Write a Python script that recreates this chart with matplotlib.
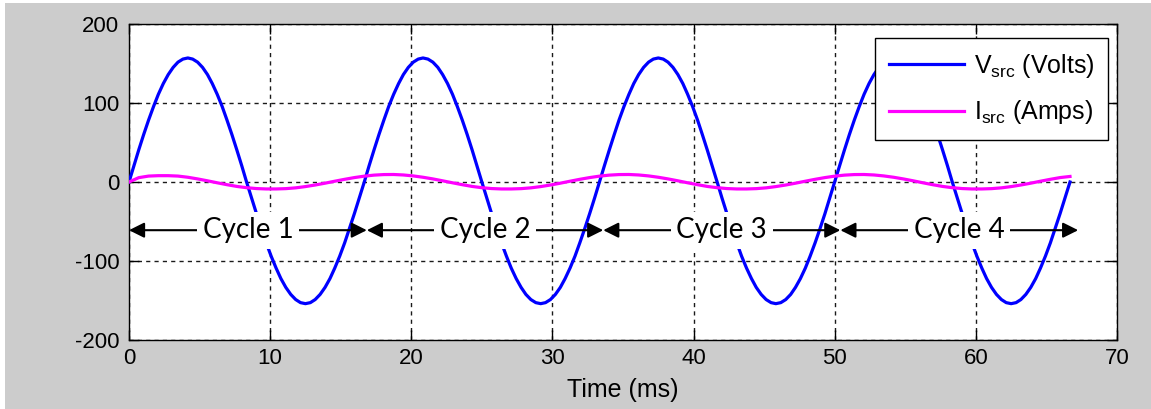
import matplotlib
matplotlib.use('Agg')
import matplotlib.pyplot as plt
from matplotlib.patches import Rectangle

# ---- data ----
# source voltage, sampled every 1/48 cycle
v_time_ms = [
    0.00, 0.35, 0.69, 1.04, 1.39, 1.74, 2.08, 2.43, 2.78, 3.13, 3.47, 3.82,
    4.17, 4.51, 4.86, 5.21, 5.56, 5.90, 6.25, 6.60, 6.94, 7.29, 7.64, 7.99,
    8.33, 8.68, 9.03, 9.38, 9.72, 10.07, 10.42, 10.76, 11.11, 11.46, 11.81, 12.15,
    12.50, 12.85, 13.19, 13.54, 13.89, 14.24, 14.58, 14.93, 15.28, 15.62, 15.97, 16.32,
    16.67, 17.01, 17.36, 17.71, 18.06, 18.40, 18.75, 19.10, 19.44, 19.79, 20.14, 20.49,
    20.83, 21.18, 21.53, 21.88, 22.22, 22.57, 22.92, 23.26, 23.61, 23.96, 24.31, 24.65,
    25.00, 25.35, 25.69, 26.04, 26.39, 26.74, 27.08, 27.43, 27.78, 28.12, 28.47, 28.82,
    29.17, 29.51, 29.86, 30.21, 30.56, 30.90, 31.25, 31.60, 31.94, 32.29, 32.64, 32.99,
    33.33, 33.68, 34.03, 34.38, 34.72, 35.07, 35.42, 35.76, 36.11, 36.46, 36.81, 37.15,
    37.50, 37.85, 38.19, 38.54, 38.89, 39.24, 39.58, 39.93, 40.28, 40.62, 40.97, 41.32,
    41.67, 42.01, 42.36, 42.71, 43.06, 43.40, 43.75, 44.10, 44.44, 44.79, 45.14, 45.49,
    45.83, 46.18, 46.53, 46.88, 47.22, 47.57, 47.92, 48.26, 48.61, 48.96, 49.31, 49.65,
    50.00, 50.35, 50.69, 51.04, 51.39, 51.74, 52.08, 52.43, 52.78, 53.13, 53.47, 53.82,
    54.17, 54.51, 54.86, 55.21, 55.56, 55.90, 56.25, 56.60, 56.94, 57.29, 57.64, 57.99,
    58.33, 58.68, 59.03, 59.38, 59.72, 60.07, 60.42, 60.76, 61.11, 61.46, 61.81, 62.15,
    62.50, 62.85, 63.19, 63.54, 63.89, 64.24, 64.58, 64.93, 65.28, 65.62, 65.97, 66.32,
    66.67,
]

v_src = [
    0, 20.5, 40.6, 60.1, 78.5, 95.6, 111.0, 124.6, 136.0, 145.1, 151.7, 155.6,
    157, 155.6, 151.7, 145.1, 136.0, 124.6, 111.0, 95.6, 78.5, 60.1, 40.6, 20.5,
    0, -20.1, -39.9, -58.9, -77, -93.8, -108.9, -122.2, -133.4, -142.3, -148.8, -152.7,
    -154, -152.7, -148.8, -142.3, -133.4, -122.2, -108.9, -93.8, -77, -58.9, -39.9, -20.1,
    0, 20.5, 40.6, 60.1, 78.5, 95.6, 111.0, 124.6, 136.0, 145.1, 151.7, 155.6,
    157, 155.6, 151.7, 145.1, 136.0, 124.6, 111.0, 95.6, 78.5, 60.1, 40.6, 20.5,
    0, -20.1, -39.9, -58.9, -77, -93.8, -108.9, -122.2, -133.4, -142.3, -148.8, -152.7,
    -154, -152.7, -148.8, -142.3, -133.4, -122.2, -108.9, -93.8, -77, -58.9, -39.9, -20.1,
    0, 20.5, 40.6, 60.1, 78.5, 95.6, 111.0, 124.6, 136.0, 145.1, 151.7, 155.6,
    157, 155.6, 151.7, 145.1, 136.0, 124.6, 111.0, 95.6, 78.5, 60.1, 40.6, 20.5,
    0, -20.1, -39.9, -58.9, -77, -93.8, -108.9, -122.2, -133.4, -142.3, -148.8, -152.7,
    -154, -152.7, -148.8, -142.3, -133.4, -122.2, -108.9, -93.8, -77, -58.9, -39.9, -20.1,
    0, 20.5, 40.6, 60.1, 78.5, 95.6, 111.0, 124.6, 136.0, 145.1, 151.7, 155.6,
    157, 155.6, 151.7, 145.1, 136.0, 124.6, 111.0, 95.6, 78.5, 60.1, 40.6, 20.5,
    0, -20.1, -39.9, -58.9, -77, -93.8, -108.9, -122.2, -133.4, -142.3, -148.8, -152.7,
    -154, -152.7, -148.8, -142.3, -133.4, -122.2, -108.9, -93.8, -77, -58.9, -39.9, -20.1,
    0,
]

# source current, sampled every 1/24 cycle
i_time_ms = [
    0.00, 0.69, 1.39, 2.08, 2.78, 3.47, 4.17, 4.86, 5.56, 6.25, 6.94, 7.64,
    8.33, 9.03, 9.72, 10.42, 11.11, 11.81, 12.50, 13.19, 13.89, 14.58, 15.28, 15.97,
    16.67, 17.36, 18.06, 18.75, 19.44, 20.14, 20.83, 21.53, 22.22, 22.92, 23.61, 24.31,
    25.00, 25.69, 26.39, 27.08, 27.78, 28.47, 29.17, 29.86, 30.56, 31.25, 31.94, 32.64,
    33.33, 34.03, 34.72, 35.42, 36.11, 36.81, 37.50, 38.19, 38.89, 39.58, 40.28, 40.97,
    41.67, 42.36, 43.06, 43.75, 44.44, 45.14, 45.83, 46.53, 47.22, 47.92, 48.61, 49.31,
    50.00, 50.69, 51.39, 52.08, 52.78, 53.47, 54.17, 54.86, 55.56, 56.25, 56.94, 57.64,
    58.33, 59.03, 59.72, 60.42, 61.11, 61.81, 62.50, 63.19, 63.89, 64.58, 65.28, 65.97,
    66.67,
]

i_src = [
    0, 5.5, 7.5, 8.0, 8.0, 7.5, 6.0, 3.9, 1.5, -1.0, -3.4, -5.6,
    -7.2, -8.3, -8.8, -8.8, -8.4, -7.4, -5.8, -3.8, -1.5, 1.0, 3.4, 5.6,
    7.4, 8.7, 9.4, 9.5, 8.9, 7.7, 6.0, 3.9, 1.5, -1.0, -3.4, -5.6,
    -7.2, -8.3, -8.8, -8.8, -8.4, -7.4, -5.8, -3.8, -1.5, 1.0, 3.4, 5.6,
    7.4, 8.7, 9.4, 9.5, 8.9, 7.7, 6.0, 3.9, 1.5, -1.0, -3.4, -5.6,
    -7.2, -8.3, -8.8, -8.8, -8.4, -7.4, -5.8, -3.8, -1.5, 1.0, 3.4, 5.6,
    7.4, 8.7, 9.4, 9.5, 8.9, 7.7, 6.0, 3.9, 1.5, -1.0, -3.4, -5.6,
    -7.2, -8.3, -8.8, -8.8, -8.4, -7.4, -5.8, -3.8, -1.5, 1.0, 3.4, 5.6,
    7.0,
]

cycle_bounds = [0, 16.85, 33.6, 50.4, 67.25]
cycle_labels = ['Cycle 1', 'Cycle 2', 'Cycle 3', 'Cycle 4']
cycle_arrow_level = -61

x_ticks = [0, 10, 20, 30, 40, 50, 60, 70]
y_ticks = [-200, -100, 0, 100, 200]

# ---- styling ----
plt.rcParams['font.family'] = ['Liberation Sans', 'DejaVu Sans']
plt.rcParams['mathtext.default'] = 'regular'
plt.rcParams['axes.unicode_minus'] = False

W, H = 1151, 409
fig = plt.figure(figsize=(W / 100, H / 100), dpi=100, facecolor='white')
fig.add_artist(Rectangle((5 / W, 0), 1, (H - 3) / H, transform=fig.transFigure,
                         facecolor='#cccccc', edgecolor='none', zorder=-5))

ax = fig.add_axes([129 / W, 69 / H, 988 / W, 316 / H])
ax.set_facecolor('white')

ax.plot(v_time_ms, v_src, color='#0000ff', lw=2.3, label=r'V$_{src}$ (Volts)',
        zorder=3, solid_joinstyle='round')
ax.plot(i_time_ms, i_src, color='#ff00ff', lw=2.3, label=r'I$_{src}$ (Amps)',
        zorder=3, solid_joinstyle='round')

ax.set_xlim(0, 70)
ax.set_ylim(-200, 200)
ax.set_xticks(x_ticks)
ax.set_yticks(y_ticks)
ax.grid(True, color='0.1', linestyle=(0, (3, 3)), lw=1.0)
ax.tick_params(direction='in', length=7, width=1, top=True, right=True,
               labelsize=16, colors='black')
ax.tick_params(axis='x', pad=6)
ax.tick_params(axis='y', pad=7)
for s in ax.spines.values():
    s.set_linewidth(1.0)
    s.set_color('black')

ax.set_xlabel('Time (ms)', fontsize=18, labelpad=6)

leg = ax.legend(loc='upper right', bbox_to_anchor=(0.991, 0.956), fontsize=18,
                frameon=True, fancybox=False, edgecolor='black', framealpha=1,
                handlelength=3, handletextpad=0.4, labelspacing=0.75,
                borderpad=0.55, borderaxespad=0)
leg.get_frame().set_linewidth(1.0)

for k, lab in enumerate(cycle_labels):
    b0, b1 = cycle_bounds[k], cycle_bounds[k + 1]
    ax.annotate('', xy=(b1, cycle_arrow_level), xytext=(b0, cycle_arrow_level),
                arrowprops=dict(arrowstyle='<|-|>,head_length=0.4,head_width=0.2',
                                mutation_scale=23, color='black', lw=1.5,
                                shrinkA=0, shrinkB=0),
                zorder=4, annotation_clip=False)
    ax.text((b0 + b1) / 2, cycle_arrow_level, lab, ha='center', va='center',
            fontsize=20, family='Lato',
            bbox=dict(boxstyle='square,pad=0.2', fc='white', ec='none'), zorder=5)

fig.savefig('out.png', dpi=100, facecolor=fig.get_facecolor())
